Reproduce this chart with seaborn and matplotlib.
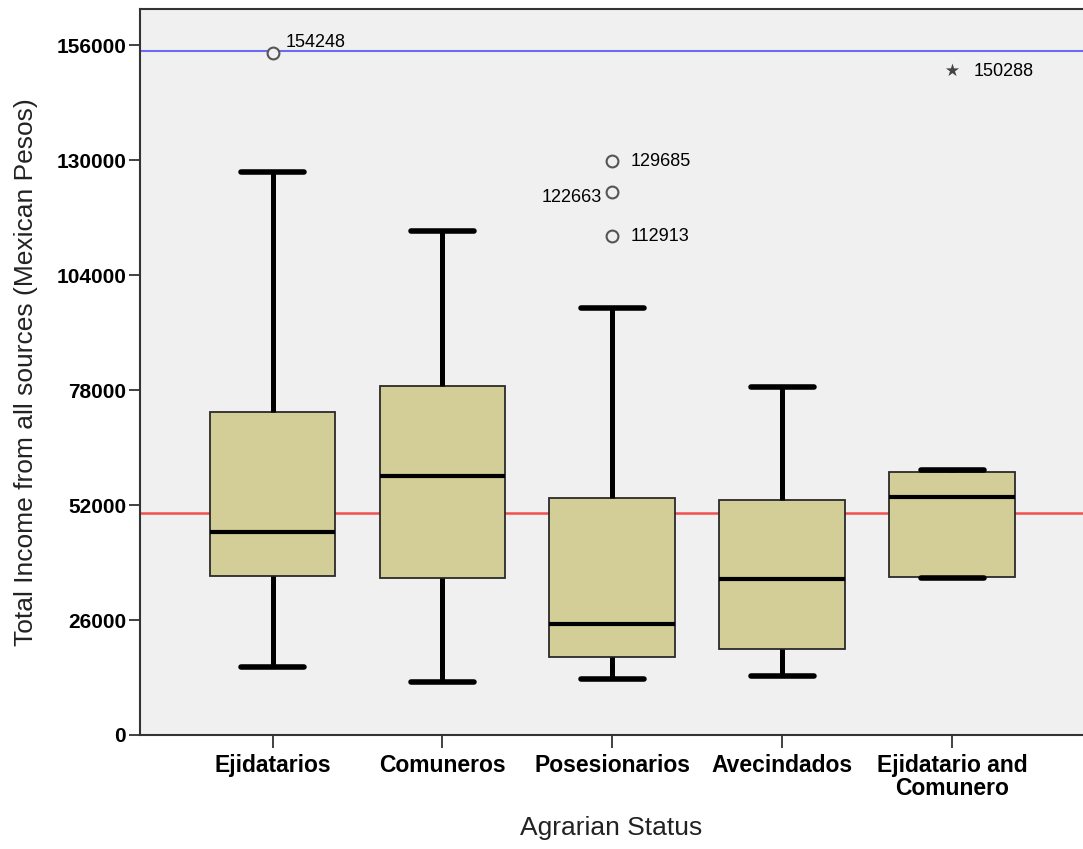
import numpy as np
import pandas as pd
import matplotlib
matplotlib.use("Agg")
import matplotlib.pyplot as plt
import seaborn as sns

# ---- data ----
categories = ["Ejidatarios", "Comuneros", "Posesionarios", "Avecindados", "Ejidatario and\nComunero"]
whisker_low = [15450, 12000, 12650, 13350, 35430]
q1 = [35950, 35450, 17700, 19400, 35800]
median = [45800, 58600, 25100, 35300, 53700]
q3 = [73100, 78900, 53500, 53100, 59500]
whisker_high = [127200, 114000, 96500, 78750, 59900]

outlier_cats = ["Ejidatarios", "Posesionarios", "Posesionarios", "Posesionarios"]
outlier_vals = [154248, 129685, 122663, 112913]
extreme_cats = ["Ejidatario and\nComunero"]
extreme_vals = [150288]

ref_high = 154650
ref_low = 50150
yticks = [0, 26000, 52000, 78000, 104000, 130000, 156000]

# ---- build long table of five-number summaries ----
rows = []
for c, a, b, m, d, e in zip(categories, whisker_low, q1, median, q3, whisker_high):
    for v in (a, b, m, d, e):
        rows.append({"status": c, "income": v})
df = pd.DataFrame(rows)

sns.set_style("white")
plt.rcParams["font.family"] = ["Liberation Sans", "DejaVu Sans"]
plt.rcParams["text.color"] = "black"
plt.rcParams["xtick.color"] = "black"
plt.rcParams["ytick.color"] = "black"

W, H = 1083, 849
fig = plt.figure(figsize=(W / 100, H / 100), dpi=100)
fig.patch.set_facecolor("white")
ax = fig.add_axes([140 / W, 1 - 735 / H, 943 / W, 726 / H])
ax.set_facecolor("#F0F0F0")

sns.boxplot(
    data=df, x="status", y="income", order=categories, ax=ax,
    whis=(0, 100), showfliers=False, width=0.74,
    color="#D3CE97", saturation=1, linecolor="black", linewidth=1.3,
    boxprops=dict(edgecolor="#2a2a2a", linewidth=1.3),
    whiskerprops=dict(color="black", linewidth=3.6),
    capprops=dict(color="black", linewidth=4.0),
    medianprops=dict(color="black", linewidth=3.0),
)

ax.axhline(ref_high, color="#6A6AF5", linewidth=1.5, zorder=1)
ax.axhline(ref_low, color="#F25050", linewidth=1.8, zorder=1)

sns.stripplot(x=outlier_cats, y=outlier_vals, order=categories, jitter=False,
              color="#F0F0F0", edgecolor="#555555", linewidth=1.5, size=8.5,
              marker="o", ax=ax, zorder=5)
sns.stripplot(x=extreme_cats, y=extreme_vals, order=categories, jitter=False,
              color="#444444", linewidth=0, size=10, marker="*", ax=ax, zorder=5)

# annotations for outliers
pos = {c: i for i, c in enumerate(categories)}
ann_offsets = {154248: (9.4, 7.5, "left"), 129685: (13.3, 0, "left"),
               122663: (-7.2, -3.6, "right"), 112913: (13.3, -0.7, "left"),
               150288: (15.8, -0.7, "left")}
for c, v in list(zip(outlier_cats, outlier_vals)) + list(zip(extreme_cats, extreme_vals)):
    dx, dy, ha = ann_offsets[v]
    ax.annotate(str(v), xy=(pos[c], v), xytext=(dx, dy), textcoords="offset points",
                ha=ha, va="center", fontsize=13, color="black")

ax.set_xlim(-0.78, 4.77)
ax.set_ylim(0, 164150)
ax.set_yticks(yticks)
ax.set_yticklabels([str(t) for t in yticks])
ax.set_xticks(range(len(categories)))
ax.set_xticklabels(categories)

ax.tick_params(axis="y", length=8, width=1.3, color="#333333", labelcolor="black",
               pad=2, labelsize=15, left=True)
ax.tick_params(axis="x", length=9.5, width=1.3, color="#333333", labelcolor="black",
               pad=4, labelsize=16.5, bottom=True)
for lbl in ax.get_yticklabels():
    lbl.set_fontweight("bold")
for lbl in ax.get_xticklabels():
    lbl.set_fontweight("bold")
    lbl.set_linespacing(1.0)

for side in ("left", "bottom", "top"):
    ax.spines[side].set_visible(True)
    ax.spines[side].set_color("#333333")
    ax.spines[side].set_linewidth(1.5)
ax.spines["right"].set_visible(False)

ax.set_xlabel("Agrarian Status", fontsize=19, color="#222222")
ax.set_ylabel("Total Income from all sources (Mexican Pesos)", fontsize=19, color="#222222")
ax.xaxis.set_label_coords(0.5, -0.112)
ax.yaxis.set_label_coords(-0.108, 0.5)

fig.savefig("out.png", dpi=100, facecolor="white")
